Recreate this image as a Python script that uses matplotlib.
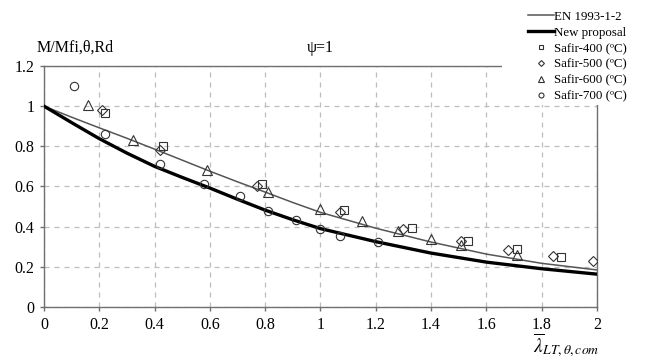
import matplotlib
matplotlib.use('Agg')
import matplotlib.pyplot as plt
from matplotlib.patches import Rectangle

# Reduction factor curves (read at regular slenderness steps)
lam = [0.0, 0.1, 0.2, 0.3, 0.4, 0.5, 0.6, 0.7, 0.8, 0.9, 1.0, 1.2, 1.4, 1.6, 1.8, 2.0]
en_1993 = [1.0, 0.945, 0.892, 0.840, 0.786, 0.731, 0.676, 0.623, 0.572, 0.520, 0.471,
           0.392, 0.323, 0.263, 0.217, 0.184]
new_proposal = [1.0, 0.918, 0.838, 0.766, 0.700, 0.645, 0.592, 0.536, 0.482, 0.434, 0.390,
                0.325, 0.268, 0.223, 0.190, 0.163]

# Safir numerical results
s400_x = [0.22, 0.43, 0.79, 1.085, 1.33, 1.535, 1.71, 1.87]
s400_y = [0.965, 0.80, 0.61, 0.485, 0.395, 0.33, 0.29, 0.25]
s500_x = [0.21, 0.42, 0.77, 1.07, 1.30, 1.51, 1.68, 1.84, 1.985]
s500_y = [0.98, 0.78, 0.60, 0.475, 0.39, 0.33, 0.285, 0.255, 0.23]
s600_x = [0.16, 0.32, 0.59, 0.81, 1.0, 1.15, 1.28, 1.40, 1.51, 1.71]
s600_y = [1.005, 0.83, 0.68, 0.57, 0.49, 0.43, 0.38, 0.34, 0.31, 0.26]
s700_x = [0.11, 0.22, 0.42, 0.58, 0.71, 0.81, 0.91, 1.0, 1.07, 1.21]
s700_y = [1.10, 0.86, 0.71, 0.61, 0.55, 0.48, 0.435, 0.39, 0.355, 0.325]

plt.rcParams['font.family'] = ['Liberation Serif', 'DejaVu Serif']
plt.rcParams['mathtext.fontset'] = 'stix'
plt.rcParams['font.size'] = 11.5

fig = plt.figure(figsize=(6.48, 3.61), dpi=100)
ax = fig.add_axes([0.068, 0.150, 0.853, 0.667])

ax.plot(lam, en_1993, '-', color='#555555', linewidth=1.1, label='EN 1993-1-2', zorder=3)
ax.plot(lam, new_proposal, '-', color='black', linewidth=2.4, label='New proposal', zorder=3)

mk = dict(linestyle='none', markerfacecolor='none', markeredgecolor='#333333',
          markeredgewidth=0.8, zorder=4)
ax.plot(s400_x, s400_y, marker='s', markersize=5.5, label='Safir-400 (ºC)', **mk)
ax.plot(s500_x, s500_y, marker='D', markersize=5, label='Safir-500 (ºC)', **mk)
ax.plot(s600_x, s600_y, marker='^', markersize=6.5, label='Safir-600 (ºC)', **mk)
ax.plot(s700_x, s700_y, marker='o', markersize=6, label='Safir-700 (ºC)', **mk)

ax.set_xlim(0, 2)
ax.set_ylim(0, 1.2)
ax.set_xticks([0, 0.2, 0.4, 0.6, 0.8, 1, 1.2, 1.4, 1.6, 1.8, 2])
ax.set_xticklabels(['0', '0.2', '0.4', '0.6', '0.8', '1', '1.2', '1.4', '1.6', '1.8', '2'])
ax.set_yticks([0, 0.2, 0.4, 0.6, 0.8, 1, 1.2])
ax.set_yticklabels(['0', '0.2', '0.4', '0.6', '0.8', '1', '1.2'])
ax.tick_params(length=3, width=1, color='#707070', pad=4)
ax.grid(True, color='#bdbdbd', linestyle=(0, (4, 4)), linewidth=0.9)
for s in ax.spines.values():
    s.set_color('#707070')
    s.set_linewidth(1.0)

ax.set_title('ψ=1', fontsize=11.5, pad=10)
fig.text(0.056, 0.868, 'M/Mfi,θ,Rd', fontsize=11.5, ha='left', va='center')
fig.text(0.822, 0.043, r'$\overline{\lambda}_{LT,\theta,com}$', fontsize=14,
         ha='left', va='center')

# white block behind the legend, cutting into the plot frame
fig.add_artist(Rectangle((0.775, 0.708), 0.225, 0.292, transform=fig.transFigure,
                         facecolor='white', edgecolor='none', zorder=2))
leg = fig.legend(loc='upper right', bbox_to_anchor=(0.976, 0.984), frameon=False,
                 fontsize=9.3, labelspacing=0.3, handlelength=2.0, handletextpad=0.05,
                 markerscale=0.6, borderaxespad=0)
leg.set_zorder(5)

fig.savefig('out.png', dpi=100)
